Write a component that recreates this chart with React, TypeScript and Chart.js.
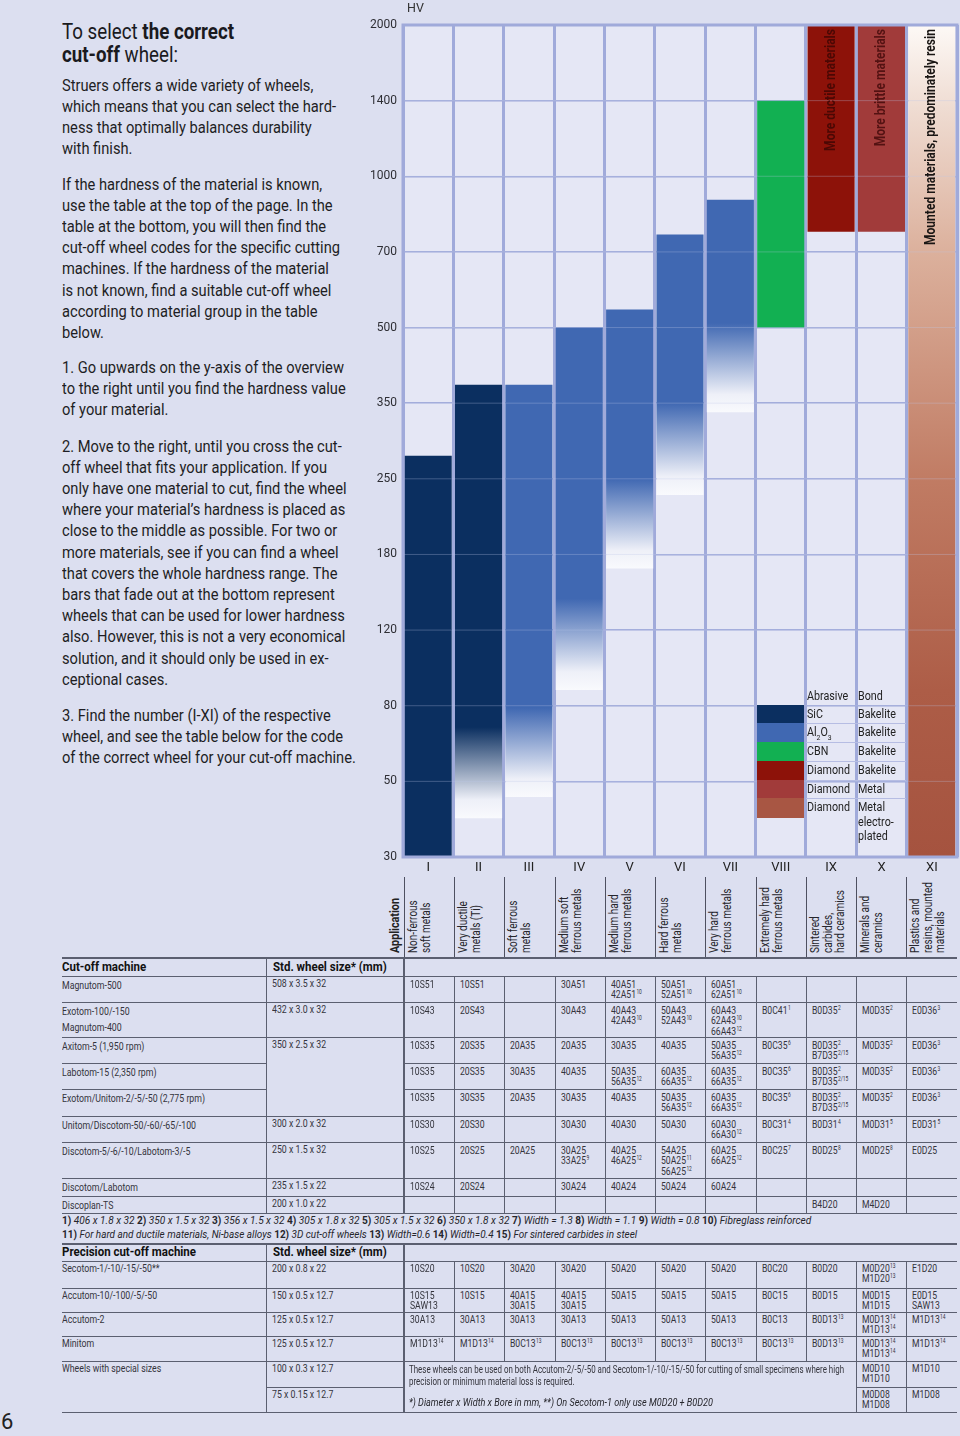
import React, { useEffect, useRef } from 'react';
import { Chart, registerables } from 'chart.js';

Chart.register(...registerables);

const FAMILY = 'Roboto';
const FONT = 'Roboto, "Liberation Sans", sans-serif';

// ---------------- chart data ----------------
const CATEGORIES = ['I', 'II', 'III', 'IV', 'V', 'VI', 'VII', 'VIII', 'IX', 'X', 'XI'];
const HV_TICKS = [30, 50, 80, 120, 180, 250, 350, 500, 700, 1000, 1400, 2000];
const BAR_BOTTOM_HV = [30, 39, 45, 87, 167, 233, 336, 500, 770, 770, 30];
const BAR_TOP_HV = [277, 382, 382, 500, 542, 760, 895, 1400, 2000, 2000, 2000];
const FADE_START_HV: (number | null)[] = [null, 70, 79, 142, 250, 350, 510, null, null, null, null];
const BAR_NOTES = ['', '', '', '', '', '', '', '', 'More ductile materials', 'More brittle materials', 'Mounted materials, predominately resin'];

const BAR_COLORS = ['#0b2f60', '#0b2f60', '#4068b2', '#4068b2', '#4068b2', '#4068b2', '#4068b2', '#12b052', '#8d1209', '#a13b3a', '#a5533f'];
const NOTE_COLORS = ['', '', '', '', '', '', '', '', '#4a0804', '#531212', '#1a1614'];
const RESIN_STOPS: [number, string][] = [[0, '#fdf9f6'], [0.1, '#efdcd2'], [0.27, '#dcb19d'], [0.55, '#c07b63'], [0.8, '#ad5d47'], [1, '#a5533f']];

const LEGEND_ABRASIVE = ['SiC', 'Al2O3', 'CBN', 'Diamond', 'Diamond', 'Diamond'];
const LEGEND_BOND = ['Bakelite', 'Bakelite', 'Bakelite', 'Bakelite', 'Metal', 'Metal|electro-|plated'];
const LEGEND_COLORS = ['#0b2f60', '#4068b2', '#12b052', '#8d1209', '#a13b3a', '#a85643'];

const APPLICATIONS = [
  ['Non-ferrous', 'soft metals'],
  ['Very ductile', 'metals (Ti)'],
  ['Soft ferrous', 'metals'],
  ['Medium soft', 'ferrous metals'],
  ['Medium hard', 'ferrous metals'],
  ['Hard ferrous', 'metals'],
  ['Very hard', 'ferrous metals'],
  ['Extremely hard', 'ferrous metals'],
  ['Sintered', 'carbides,', 'hard ceramics'],
  ['Minerals and', 'ceramics'],
  ['Plastics and', 'resins, mounted', 'materials'],
];

// ---------------- table data ----------------
const CUT_MACHINES = ['Magnutom-500', 'Exotom-100/-150|Magnutom-400', 'Axitom-5 (1,950 rpm)', 'Labotom-15 (2,350 rpm)', 'Exotom/Unitom-2/-5/-50 (2,775 rpm)', 'Unitom/Discotom-50/-60/-65/-100', 'Discotom-5/-6/-10/Labotom-3/-5', 'Discotom/Labotom', 'Discoplan-TS'];
const CUT_SIZES = ['508 x 3.5 x 32', '432 x 3.0 x 32', '350 x 2.5 x 32', '', '', '300 x 2.0 x 32', '250 x 1.5 x 32', '235 x 1.5 x 22', '200 x 1.0 x 22'];
const CUT_CODES = [
  ['10S51', '10S51', '', '30A51', '40A51|42A51^10', '50A51|52A51^10', '60A51|62A51^10', '', '', '', ''],
  ['10S43', '20S43', '', '30A43', '40A43|42A43^10', '50A43|52A43^10', '60A43|62A43^10|66A43^12', 'B0C41^1', 'B0D35^2', 'M0D35^2', 'E0D36^3'],
  ['10S35', '20S35', '20A35', '20A35', '30A35', '40A35', '50A35|56A35^12', 'B0C35^6', 'B0D35^2|B7D35^2/15', 'M0D35^2', 'E0D36^3'],
  ['10S35', '20S35', '30A35', '40A35', '50A35|56A35^12', '60A35|66A35^12', '60A35|66A35^12', 'B0C35^6', 'B0D35^2|B7D35^2/15', 'M0D35^2', 'E0D36^3'],
  ['10S35', '30S35', '20A35', '30A35', '40A35', '50A35|56A35^12', '60A35|66A35^12', 'B0C35^6', 'B0D35^2|B7D35^2/15', 'M0D35^2', 'E0D36^3'],
  ['10S30', '20S30', '', '30A30', '40A30', '50A30', '60A30|66A30^12', 'B0C31^4', 'B0D31^4', 'M0D31^5', 'E0D31^5'],
  ['10S25', '20S25', '20A25', '30A25|33A25^9', '40A25|46A25^12', '54A25|50A25^11|56A25^12', '60A25|66A25^12', 'B0C25^7', 'B0D25^8', 'M0D25^8', 'E0D25'],
  ['10S24', '20S24', '', '30A24', '40A24', '50A24', '60A24', '', '', '', ''],
  ['', '', '', '', '', '', '', '', 'B4D20', 'M4D20', ''],
];
const FOOTNOTES_1: [string, string][] = [['1)', '406 x 1.8 x 32'], ['2)', '350 x 1.5 x 32'], ['3)', '356 x 1.5 x 32'], ['4)', '305 x 1.8 x 32'], ['5)', '305 x 1.5 x 32'], ['6)', '350 x 1.8 x 32'], ['7)', 'Width = 1.3'], ['8)', 'Width = 1.1'], ['9)', 'Width = 0.8'], ['10)', 'Fibreglass reinforced']];
const FOOTNOTES_2: [string, string][] = [['11)', 'For hard and ductile materials, Ni-base alloys'], ['12)', '3D cut-off wheels'], ['13)', 'Width=0.6'], ['14)', 'Width=0.4'], ['15)', 'For sintered carbides in steel']];

const PREC_MACHINES = ['Secotom-1/-10/-15/-50**', 'Accutom-10/-100/-5/-50', 'Accutom-2', 'Minitom', 'Wheels with special sizes', ''];
const PREC_SIZES = ['200 x 0.8 x 22', '150 x 0.5 x 12.7', '125 x 0.5 x 12.7', '125 x 0.5 x 12.7', '100 x 0.3 x 12.7', '75 x 0.15 x 12.7'];
const PREC_CODES = [
  ['10S20', '10S20', '30A20', '30A20', '50A20', '50A20', '50A20', 'B0C20', 'B0D20', 'M0D20^13|M1D20^13', 'E1D20'],
  ['10S15|SAW13', '10S15', '40A15|30A15', '40A15|30A15', '50A15', '50A15', '50A15', 'B0C15', 'B0D15', 'M0D15|M1D15', 'E0D15|SAW13'],
  ['30A13', '30A13', '30A13', '30A13', '50A13', '50A13', '50A13', 'B0C13', 'B0D13^13', 'M0D13^14|M1D13^14', 'M1D13^14'],
  ['M1D13^14', 'M1D13^14', 'B0C13^13', 'B0C13^13', 'B0C13^13', 'B0C13^13', 'B0C13^13', 'B0C13^13', 'B0D13^13', 'M0D13^14|M1D13^14', 'M1D13^14'],
  ['', '', '', '', '', '', '', '', '', 'M0D10|M1D10', 'M1D10'],
  ['', '', '', '', '', '', '', '', '', 'M0D08|M1D08', 'M1D08'],
];
const SPECIAL_NOTE = ['These wheels can be used on both Accutom-2/-5/-50 and Secotom-1/-10/-15/-50 for cutting of small specimens where high', 'precision or minimum material loss is required.'];
const SPECIAL_FOOT = '*) Diameter x Width x Bore in mm, **) On Secotom-1 only use M0D20 + B0D20';

const PARAGRAPHS = [
  ['Struers offers a wide variety of wheels,', 'which means that you can select the hard-', 'ness that optimally balances durability', 'with finish.'],
  ['If the hardness of the material is known,', 'use the table at the top of the page. In the', 'table at the bottom, you will then find the', 'cut-off wheel codes for the specific cutting', 'machines. If the hardness of the material', 'is not known, find a suitable cut-off wheel', 'according to material group in the table', 'below.'],
  ['1. Go upwards on the y-axis of the overview', 'to the right until you find the hardness value', 'of your material.'],
  ['2. Move to the right, until you cross the cut-', 'off wheel that fits your application. If you', 'only have one material to cut, find the wheel', 'where your material\u2019s hardness is placed as', 'close to the middle as possible. For two or', 'more materials, see if you can find a wheel', 'that covers the whole hardness range. The', 'bars that fade out at the bottom represent', 'wheels that can be used for lower hardness', 'also. However, this is not a very economical', 'solution, and it should only be used in ex-', 'ceptional cases.'],
  ['3. Find the number (I-XI) of the respective', 'wheel, and see the table below for the code', 'of the correct wheel for your cut-off machine.'],
];

// ---------------- layout constants ----------------
const PAGE_BG = '#dcdff0';
const PLOT_BG = '#e5e7f5';
const GRID = '#a0aada';
const LINE = '#5b5f70';
const TXT = '#34343c';
const PARA_TOPS = [74.5, 173.5, 356.5, 435.5, 704.5];
const COL_X = [62, 266, 404, 454, 504, 555, 605, 655, 705, 756, 806, 856, 906, 957];
const CUT_TOP = 958;
const CUT_ROW_Y = [976, 1002, 1037, 1063, 1089, 1116, 1142, 1178, 1196, 1213];
const PREC_TOP = 1244;
const PREC_ROW_Y = [1261, 1288, 1312, 1336, 1361, 1387, 1412];

// ---------------- text measuring (condensed look) ----------------
let measureCtx: CanvasRenderingContext2D | null = null;
function textWidth(text: string, font: string): number {
  if (!measureCtx) measureCtx = document.createElement('canvas').getContext('2d');
  if (!measureCtx) return text.length * 6;
  measureCtx.font = font;
  return measureCtx.measureText(text).width;
}
function fitK(parts: [string, string][], target: number): number {
  const w = parts.reduce((s, [t, fnt]) => s + textWidth(t, fnt), 0);
  return w > 0 ? target / w : 1;
}
const f = (spec: string) => `${spec} ${FAMILY}`;

function hvToLevel(hv: number): number {
  for (let i = 0; i < HV_TICKS.length - 1; i++) {
    const a = HV_TICKS[i], b = HV_TICKS[i + 1];
    if (hv <= b || i === HV_TICKS.length - 2) {
      return i + Math.log(hv / a) / Math.log(b / a);
    }
  }
  return 0;
}

function barFill(chart: any, i: number): any {
  const area = chart.chartArea;
  const y = chart.scales && chart.scales.y;
  if (!area || !y) return BAR_COLORS[i];
  const ctx = chart.ctx as CanvasRenderingContext2D;
  const top = y.getPixelForValue(hvToLevel(BAR_TOP_HV[i]));
  const bot = y.getPixelForValue(hvToLevel(BAR_BOTTOM_HV[i]));
  if (i === 10) {
    const g = ctx.createLinearGradient(0, top, 0, bot);
    RESIN_STOPS.forEach(([p, c]) => g.addColorStop(p, c));
    return g;
  }
  const fs = FADE_START_HV[i];
  if (fs == null) return BAR_COLORS[i];
  const fy = y.getPixelForValue(hvToLevel(fs));
  const p = Math.max(0, Math.min(1, (fy - top) / (bot - top)));
  const g = ctx.createLinearGradient(0, top, 0, bot);
  g.addColorStop(0, BAR_COLORS[i]);
  g.addColorStop(p, BAR_COLORS[i]);
  g.addColorStop(p + (1 - p) * 0.8, '#eef0f8');
  g.addColorStop(1, '#f9fafd');
  return g;
}

const framePlugin = {
  id: 'frame',
  beforeDraw(chart: any) {
    const { ctx, chartArea: a } = chart;
    ctx.save();
    ctx.fillStyle = PLOT_BG;
    ctx.fillRect(a.left, a.top, a.right - a.left, a.bottom - a.top);
    ctx.restore();
  },
  afterDatasetsDraw(chart: any) {
    const { ctx, chartArea: a, scales } = chart;
    ctx.save();
    ctx.strokeStyle = 'rgba(190,198,232,0.3)';
    ctx.lineWidth = 1;
    for (let i = 1; i < HV_TICKS.length - 1; i++) {
      const yy = scales.y.getPixelForValue(i);
      ctx.beginPath();
      ctx.moveTo(a.left, yy);
      ctx.lineTo(a.right, yy);
      ctx.stroke();
    }
    const noteFont = f('bold 14px');
    const k = fitK([['Mounted materials, predominately resin', noteFont]], 216);
    const meta = chart.getDatasetMeta(0);
    meta.data.forEach((el: any, i: number) => {
      const note = BAR_NOTES[i];
      if (!note) return;
      ctx.save();
      ctx.translate(el.x, Math.min(el.y, el.base) + 4);
      ctx.rotate(-Math.PI / 2);
      ctx.scale(k, 1);
      ctx.font = noteFont;
      ctx.fillStyle = NOTE_COLORS[i];
      ctx.textAlign = 'right';
      ctx.textBaseline = 'middle';
      ctx.fillText(note, 0, 0);
      ctx.restore();
    });
    ctx.strokeStyle = GRID;
    ctx.lineWidth = 3;
    ctx.strokeRect(a.left, a.top, a.right - a.left, a.bottom - a.top);
    ctx.fillStyle = '#333';
    ctx.font = f('12.5px');
    ctx.textAlign = 'left';
    ctx.textBaseline = 'middle';
    ctx.fillText('HV', a.left + 4, 9);
    ctx.restore();
  },
};

function HardnessChart() {
  const ref = useRef<HTMLCanvasElement>(null);
  useEffect(() => {
    const canvas = ref.current;
    if (!canvas) return;
    const data = BAR_BOTTOM_HV.map((b, i) => [hvToLevel(b), hvToLevel(BAR_TOP_HV[i])]);
    const chart = new Chart(canvas, {
      type: 'bar',
      data: {
        labels: CATEGORIES,
        datasets: [{
          data: data as any,
          backgroundColor: (c: any) => barFill(c.chart, c.dataIndex),
          borderWidth: 0,
          borderSkipped: false,
          barPercentage: 1,
          categoryPercentage: 0.935,
        }],
      },
      options: {
        animation: false,
        responsive: true,
        maintainAspectRatio: false,
        layout: { padding: { top: 25, right: 3, left: 0, bottom: 0 } },
        plugins: { legend: { display: false }, tooltip: { enabled: false } },
        scales: {
          x: {
            grid: { offset: true, color: GRID, lineWidth: 3, drawTicks: false },
            border: { display: false },
            ticks: { color: '#222', font: { size: 13, family: FONT }, padding: 3 },
            afterFit: (s: any) => { s.height = 23; },
          },
          y: {
            min: 0,
            max: 11,
            grid: { color: GRID, lineWidth: 1.5, drawTicks: false },
            border: { display: false },
            ticks: {
              stepSize: 1,
              autoSkip: false,
              color: '#2e2e34',
              font: { size: 12, family: FONT },
              padding: 6,
              callback: (v: any) => (HV_TICKS[v as number] !== undefined ? String(HV_TICKS[v as number]) : ''),
            },
            afterFit: (s: any) => { s.width = 43; },
          },
        },
      } as any,
      plugins: [framePlugin],
    });
    return () => chart.destroy();
  }, []);
  return (
    <div style={{ position: 'absolute', left: 360, top: 0, width: 600, height: 880 }}>
      <canvas ref={ref} />
    </div>
  );
}

function Code({ text }: { text: string }) {
  const [main, sup] = text.split('^');
  return (
    <>
      {main}
      {sup ? <span style={{ fontSize: 6.5, position: 'relative', top: -4, lineHeight: 0, marginLeft: 0.5 }}>{sup}</span> : null}
    </>
  );
}

function Sq({ k, style, children }: any) {
  return (
    <div style={{ position: 'absolute', whiteSpace: 'nowrap', transform: `scaleX(${k})`, transformOrigin: '0 0', ...style }}>
      {children}
    </div>
  );
}

function Cell({ x, y, text, k, lh = 10.5, size = 11, color = TXT }: any) {
  if (!text) return null;
  const lines = String(text).split('|');
  return (
    <Sq k={k} style={{ left: x, top: y, fontSize: size, lineHeight: lh + 'px', color }}>
      {lines.map((l, i) => <div key={i}><Code text={l} /></div>)}
    </Sq>
  );
}

const HL = (x1: number, x2: number, y: number, w = 1, c = LINE, k = '') => (
  <div key={k || `h${x1}-${x2}-${y}`} style={{ position: 'absolute', left: x1, top: y - w / 2, width: x2 - x1, height: w, background: c }} />
);
const VL = (x: number, y1: number, y2: number, w = 1, c = LINE, k = '') => (
  <div key={k || `v${x}-${y1}-${y2}`} style={{ position: 'absolute', left: x - w / 2, top: y1, width: w, height: y2 - y1, background: c }} />
);

function Legend() {
  const k = fitK([['Diamond', f('12.5px')]], 43);
  const rowTops = [705, 723, 742, 761, 780, 798];
  const rowBottoms = [723, 742, 761, 780, 798, 818];
  const items: any[] = [];
  const ts = { fontSize: 12.5, lineHeight: '14.5px', color: '#222' };
  items.push(<Sq key="ha" k={k} style={{ left: 807, top: 689, ...ts }}>Abrasive</Sq>);
  items.push(<Sq key="hb" k={k} style={{ left: 858, top: 689, ...ts }}>Bond</Sq>);
  LEGEND_ABRASIVE.forEach((ab, i) => {
    items.push(<div key={'s' + i} style={{ position: 'absolute', left: 757, top: rowTops[i], width: 47, height: rowBottoms[i] - rowTops[i], background: LEGEND_COLORS[i] }} />);
    const abr = ab === 'Al2O3' ? <>Al<sub style={{ fontSize: 8, lineHeight: 0 }}>2</sub>O<sub style={{ fontSize: 8, lineHeight: 0 }}>3</sub></> : ab;
    items.push(<Sq key={'a' + i} k={k} style={{ left: 807, top: rowTops[i] + 2, ...ts }}>{abr}</Sq>);
    items.push(
      <Sq key={'b' + i} k={k} style={{ left: 858, top: rowTops[i] + 2, ...ts }}>
        {LEGEND_BOND[i].split('|').map((l, j) => <div key={j}>{l}</div>)}
      </Sq>
    );
    if (i > 0) items.push(HL(806, 906, rowTops[i], 1, '#b6bde3', 'lg' + i));
  });
  return <>{items}</>;
}

function ApplicationRow() {
  const k = fitK([['Extremely hard', f('12.5px')]], 66);
  const kb = fitK([['Application', f('700 13px')]], 55);
  const els: any[] = [];
  els.push(
    <div key="app" style={{ position: 'absolute', left: 388, top: 953, transform: `rotate(-90deg) scaleX(${kb})`, transformOrigin: 'top left', fontSize: 13, lineHeight: '13px', fontWeight: 700, color: '#222', whiteSpace: 'nowrap' }}>Application</div>
  );
  APPLICATIONS.forEach((lines, i) => {
    els.push(
      <div key={'ap' + i} style={{ position: 'absolute', left: COL_X[i + 2] + 3, top: 953, transform: `rotate(-90deg) scaleX(${k})`, transformOrigin: 'top left', fontSize: 12.5, lineHeight: '12.5px', color: '#26262c', whiteSpace: 'nowrap' }}>
        {lines.map((l, j) => <div key={j}>{l}</div>)}
      </div>
    );
  });
  for (let c = 2; c < COL_X.length - 1; c++) els.push(VL(COL_X[c], 877, 958, 1, '#4e5060', 'apv' + c));
  return <>{els}</>;
}

function useKs() {
  return {
    body: fitK([['Exotom/Unitom-2/-5/-50 (2,775 rpm)', f('10.5px')]], 143),
    code: fitK([['10S43', f('11.5px')]], 24.5),
    head: fitK([['Precision cut-off machine', f('700 12.5px')]], 134),
  };
}

function CutTable() {
  const K = useKs();
  const els: any[] = [];
  const hs = { fontSize: 12.5, lineHeight: '14px', fontWeight: 700, color: '#111' };
  els.push(HL(62, 957, CUT_TOP, 1.5, LINE, 'ct'));
  els.push(<Sq key="ch1" k={K.head} style={{ left: 62, top: 960, ...hs }}>Cut-off machine</Sq>);
  els.push(<Sq key="ch2" k={K.head} style={{ left: 273, top: 960, ...hs }}>Std. wheel size* (mm)</Sq>);
  CUT_ROW_Y.forEach((y, r) => {
    const sizeSpan = r === 3 || r === 4;
    if (sizeSpan) {
      els.push(HL(62, 266, y, 1, LINE, 'cr' + r + 'a'));
      els.push(HL(404, 957, y, 1, LINE, 'cr' + r + 'b'));
    } else {
      els.push(HL(62, 957, y, 1, LINE, 'cr' + r));
    }
  });
  const last = CUT_ROW_Y[CUT_ROW_Y.length - 1];
  els.push(VL(266, CUT_TOP, last, 1, LINE, 'cv1'));
  els.push(VL(404, CUT_TOP, last, 1.5, LINE, 'cv2'));
  for (let c = 3; c < COL_X.length - 1; c++) els.push(VL(COL_X[c], CUT_ROW_Y[0], last, 1, LINE, 'cvc' + c));
  CUT_MACHINES.forEach((m, r) => {
    const y = CUT_ROW_Y[r];
    els.push(<Cell key={'cm' + r} k={K.body} x={62} y={y + 2} text={m} lh={16} size={10.5} />);
    els.push(<Cell key={'cs' + r} k={K.body} x={272} y={y + 2} text={CUT_SIZES[r]} lh={11} size={10.5} />);
    CUT_CODES[r].forEach((code, c) => {
      els.push(<Cell key={`cc${r}-${c}`} k={K.code} x={COL_X[c + 2] + 6} y={y + 2.5} text={code} lh={10.5} size={11.5} />);
    });
  });
  return <>{els}</>;
}

function Footnotes() {
  const nb = f('700 10.5px');
  const it = f('italic 10.5px');
  const sp = f('10.5px');
  const line = (items: [string, string][], top: number, target: number, key: string) => {
    const parts: [string, string][] = [];
    items.forEach(([n, t], i) => { parts.push([n, nb], [' ', sp], [t, it]); if (i < items.length - 1) parts.push([' ', sp]); });
    const k = fitK(parts, target);
    return (
      <Sq key={key} k={k} style={{ left: 62, top, fontSize: 10.5, lineHeight: '13px', color: '#26262c' }}>
        {items.map(([n, t], i) => (
          <span key={i}><b>{n}</b> <i>{t}</i>{i < items.length - 1 ? ' ' : ''}</span>
        ))}
      </Sq>
    );
  };
  return <>{line(FOOTNOTES_1, 1214, 749, 'f1')}{line(FOOTNOTES_2, 1228, 575, 'f2')}</>;
}

function PrecTable() {
  const K = useKs();
  const els: any[] = [];
  const last = PREC_ROW_Y[PREC_ROW_Y.length - 1];
  const hs = { fontSize: 12.5, lineHeight: '14px', fontWeight: 700, color: '#111' };
  els.push(HL(62, 957, PREC_TOP, 1.5, LINE, 'pt'));
  els.push(<Sq key="ph1" k={K.head} style={{ left: 62, top: 1245, ...hs }}>Precision cut-off machine</Sq>);
  els.push(<Sq key="ph2" k={K.head} style={{ left: 273, top: 1245, ...hs }}>Std. wheel size* (mm)</Sq>);
  PREC_ROW_Y.forEach((y, r) => {
    if (r === 5) {
      els.push(HL(266, 404, y, 1, LINE, 'pr' + r + 'a'));
      els.push(HL(856, 957, y, 1, LINE, 'pr' + r + 'b'));
    } else {
      els.push(HL(62, 957, y, 1, LINE, 'pr' + r));
    }
  });
  els.push(VL(266, PREC_TOP, last, 1, LINE, 'pv1'));
  els.push(VL(404, PREC_TOP, last, 1.5, LINE, 'pv2'));
  for (let c = 3; c < COL_X.length - 1; c++) {
    const bottom = c >= 11 ? last : PREC_ROW_Y[4];
    els.push(VL(COL_X[c], PREC_ROW_Y[0], bottom, 1, LINE, 'pvc' + c));
  }
  PREC_MACHINES.forEach((m, r) => {
    const y = PREC_ROW_Y[r];
    els.push(<Cell key={'pm' + r} k={K.body} x={62} y={y + 2} text={m} lh={11} size={10.5} />);
    els.push(<Cell key={'ps' + r} k={K.body} x={272} y={y + 2} text={PREC_SIZES[r]} lh={11} size={10.5} />);
    PREC_CODES[r].forEach((code, c) => {
      els.push(<Cell key={`pc${r}-${c}`} k={K.code} x={COL_X[c + 2] + 6} y={y + 1.5} text={code} lh={10.5} size={11.5} />);
    });
  });
  const kn = fitK([[SPECIAL_NOTE[0], f('10.5px')]], 435);
  const kf = fitK([[SPECIAL_FOOT, f('italic 10.5px')]], 304);
  els.push(
    <Sq key="sn" k={kn} style={{ left: 409, top: 1364, fontSize: 10.5, lineHeight: '11.5px', color: TXT }}>
      {SPECIAL_NOTE.map((l, i) => <div key={i}>{l}</div>)}
    </Sq>
  );
  els.push(<Sq key="sf" k={kf} style={{ left: 409, top: 1397, fontSize: 10.5, lineHeight: '12px', color: '#26262c', fontStyle: 'italic' }}>{SPECIAL_FOOT}</Sq>);
  return <>{els}</>;
}

function LeftText() {
  const kt = fitK([['To select ', f('22px')], ['the correct', f('700 22px')]], 172);
  const kp = fitK([['which means that you can select the hard-', f('16.5px')]], 274);
  return (
    <>
      <Sq k={kt} style={{ left: 62, top: 20, fontSize: 22, lineHeight: '23px', color: '#1a1a1e' }}>
        <div>To select <b>the correct</b></div>
        <div><b>cut-off</b> wheel:</div>
      </Sq>
      {PARAGRAPHS.map((p, i) => (
        <Sq key={i} k={kp} style={{ left: 62, top: PARA_TOPS[i], fontSize: 16.5, lineHeight: '21.2px', color: '#1e1e24' }}>
          {p.map((l, j) => <div key={j}>{l}</div>)}
        </Sq>
      ))}
    </>
  );
}

export default function App() {
  return (
    <div style={{ position: 'absolute', left: 0, top: 0, width: 960, height: 1436, background: PAGE_BG, fontFamily: FONT, overflow: 'hidden' }}>
      <LeftText />
      <HardnessChart />
      <Legend />
      <ApplicationRow />
      <CutTable />
      <Footnotes />
      <PrecTable />
      <div style={{ position: 'absolute', left: 1, top: 1410, fontSize: 22, lineHeight: '24px', color: '#222' }}>6</div>
    </div>
  );
}
